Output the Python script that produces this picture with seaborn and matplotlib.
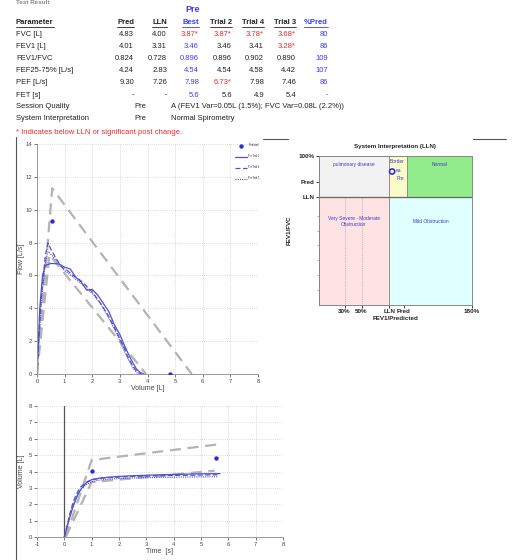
import matplotlib
matplotlib.use("Agg")
import matplotlib.pyplot as plt
import seaborn as sns
import pandas as pd
from matplotlib.lines import Line2D
from matplotlib.patches import Rectangle

# ---------------- data ----------------
params = ["FVC [L]", "FEV1 [L]", "FEV1/FVC", "FEF25-75% [L/s]", "PEF [L/s]", "FET [s]"]
pred = ["4.83", "4.01", "0.824", "4.24", "9.30", "-"]
lln = ["4.00", "3.31", "0.728", "2.83", "7.26", "-"]
best = ["3.87*", "3.46", "0.896", "4.54", "7.98", "5.6"]
trial2 = ["3.87*", "3.46", "0.896", "4.54", "6.73*", "5.6"]
trial4 = ["3.78*", "3.41", "0.902", "4.58", "7.98", "4.9"]
trial3 = ["3.68*", "3.28*", "0.890", "4.42", "7.46", "5.4"]
pct_pred = ["80", "86", "109", "107", "86", "-"]
session_quality = "A (FEV1 Var=0.05L (1.5%); FVC Var=0.08L (2.2%))"
system_interp = "Normal Spirometry"

# flow-volume
fv_t2_vol = [0, 0.05, 0.1, 0.2, 0.3, 0.5, 0.8, 1.0, 1.2, 1.4, 1.6, 1.8, 2.0, 2.2, 2.4, 2.6, 2.8, 3.0, 3.2, 3.4, 3.6, 3.75, 3.87]
fv_t2_flow = [0, 2.0, 4.0, 6.0, 6.6, 6.73, 6.7, 6.5, 6.4, 5.9, 5.6, 5.1, 5.15, 4.8, 4.3, 3.8, 3.0, 2.4, 1.6, 0.9, 0.3, 0.08, 0]
fv_t4_vol = [0, 0.05, 0.15, 0.3, 0.4, 0.5, 0.7, 0.9, 1.1, 1.3, 1.5, 1.7, 2.0, 2.3, 2.6, 2.9, 3.1, 3.3, 3.5, 3.65, 3.78]
fv_t4_flow = [0, 1.5, 4.5, 7.2, 7.98, 7.6, 7.0, 6.5, 6.3, 6.0, 5.8, 5.5, 5.0, 4.3, 3.5, 2.5, 1.8, 1.0, 0.4, 0.1, 0]
fv_t3_vol = [0, 0.05, 0.15, 0.3, 0.4, 0.55, 0.8, 1.0, 1.3, 1.6, 2.0, 2.3, 2.6, 2.9, 3.1, 3.3, 3.5, 3.6, 3.68]
fv_t3_flow = [0, 1.5, 4.3, 6.8, 7.46, 7.2, 6.7, 6.3, 5.9, 5.5, 4.9, 4.3, 3.4, 2.4, 1.6, 0.9, 0.3, 0.1, 0]
fv_pred_vol = [0, 0.55, 5.6]
fv_pred_flow = [0, 11.3, 0]
fv_lln_vol = [0, 0.45, 3.95]
fv_lln_flow = [0, 7.26, 0]
fv_pts_vol = [0.55, 4.83]
fv_pts_flow = [9.30, 0.0]

# volume-time
vt_t2_t = [0, 0.1, 0.2, 0.3, 0.4, 0.5, 0.6, 0.8, 1.0, 1.3, 1.6, 2.0, 2.5, 3.0, 3.5, 4.0, 4.5, 5.0, 5.7]
vt_t2_v = [0, 0.6, 1.2, 1.75, 2.2, 2.6, 2.9, 3.3, 3.5, 3.6, 3.65, 3.7, 3.74, 3.77, 3.8, 3.82, 3.84, 3.86, 3.87]
vt_t4_t = [0, 0.1, 0.2, 0.3, 0.4, 0.5, 0.6, 0.8, 1.0, 1.3, 1.6, 2.0, 2.5, 3.0, 3.5, 4.0, 4.5, 4.9, 5.6]
vt_t4_v = [0, 0.7, 1.4, 2.0, 2.45, 2.8, 3.05, 3.35, 3.5, 3.58, 3.62, 3.66, 3.7, 3.72, 3.74, 3.76, 3.77, 3.78, 3.8]
vt_t3_t = [0, 0.1, 0.2, 0.3, 0.4, 0.5, 0.6, 0.8, 1.0, 1.3, 1.6, 2.0, 2.5, 3.0, 3.5, 4.0, 4.5, 5.0, 5.6]
vt_t3_v = [0, 0.65, 1.3, 1.85, 2.3, 2.65, 2.9, 3.2, 3.38, 3.48, 3.53, 3.57, 3.6, 3.62, 3.64, 3.65, 3.66, 3.67, 3.68]
vt_pred_t = [0.05, 1.0, 5.6]
vt_pred_v = [0, 4.7, 5.65]
vt_lln_t = [0.05, 1.0, 5.5]
vt_lln_v = [0, 3.35, 4.05]
vt_pts_t = [1.0, 5.55]
vt_pts_v = [4.01, 4.83]

# interpretation chart
fev1_pct_pred = 86
fev1_fvc_pct = 89.6
lln_pct_pred = 82.5
pred_pct_pred = 100
ratio_lln = 72.8
ratio_pred = 82.4

# ---------------- style ----------------
sns.set_theme(style="white")
plt.rcParams['font.family'] = ['Liberation Sans', 'DejaVu Sans']
plt.rcParams['axes.unicode_minus'] = False

W, H = 519, 560
fig = plt.figure(figsize=(W / 100, H / 100), dpi=100)
fig.patch.set_facecolor("white")

def fx(x):
    return x / W

def fy(y):
    return 1 - y / H

def ftext(x, y, s, ha="left", color="#222222", size=5.5, weight="normal", **kw):
    return fig.text(fx(x), fy(y), s, ha=ha, va="center", color=color, fontsize=size,
                    fontweight=weight, **kw)

RED = "#ee2a2a"
BLUE = "#3a3aff"
DARK = "#222222"

# top heading (cut in the original page)
ftext(16, 3, "Test Result", color="#888888", size=4.5, weight="bold")
ftext(193, 10, "Pre", ha="center", color=BLUE, size=6.5, weight="bold")

col_x = {"pred": 134, "lln": 167, "best": 199, "t2": 232, "t4": 264, "t3": 296, "pct": 328}
headers = [("Parameter", 16, "left", DARK), ("Pred", col_x["pred"], "right", DARK),
           ("LLN", col_x["lln"], "right", DARK), ("Best", col_x["best"], "right", BLUE),
           ("Trial 2", col_x["t2"], "right", DARK), ("Trial 4", col_x["t4"], "right", DARK),
           ("Trial 3", col_x["t3"], "right", DARK), ("%Pred", col_x["pct"], "right", BLUE)]
header_texts = []
for s, x, ha, c in headers:
    header_texts.append((ftext(x, 23, s, ha=ha, color=c, weight="bold"), c))

row_y = [34, 46, 58, 70, 82, 95]
for i, y in enumerate(row_y):
    ftext(16, y, params[i])
    ftext(col_x["pred"], y, pred[i], ha="right")
    ftext(col_x["lln"], y, lln[i], ha="right")
    ftext(col_x["best"], y, best[i], ha="right", color=RED if "*" in best[i] else BLUE)
    ftext(col_x["t2"], y, trial2[i], ha="right", color=RED if "*" in trial2[i] else DARK)
    ftext(col_x["t4"], y, trial4[i], ha="right", color=RED if "*" in trial4[i] else DARK)
    ftext(col_x["t3"], y, trial3[i], ha="right", color=RED if "*" in trial3[i] else DARK)
    ftext(col_x["pct"], y, pct_pred[i], ha="right", color=BLUE)

ftext(16, 107, "Session Quality")
ftext(134, 107, "Pre")
ftext(171, 107, session_quality)
ftext(16, 119, "System Interpretation")
ftext(134, 119, "Pre")
ftext(171, 119, system_interp)
ftext(16, 132, "* Indicates below LLN or significant post change.", color=RED)

# frame lines
fig.add_artist(Line2D([fx(16), fx(16)], [fy(137), fy(560)], color="#555555", lw=0.8))
fig.add_artist(Line2D([fx(263), fx(288)], [fy(139), fy(139)], color="#555555", lw=0.8))
fig.add_artist(Line2D([fx(473), fx(506)], [fy(139), fy(139)], color="#555555", lw=0.8))

TICKC = "#444444"
GRIDC = "#cfcfcf"
LBLUE = "#5050cc"
GRAY = "#b3b3b3"
DASH = (0, (5, 3))

def style_axes(ax):
    for s in ["top", "right"]:
        ax.spines[s].set_visible(False)
    for s in ["left", "bottom"]:
        ax.spines[s].set_color("#999999")
        ax.spines[s].set_linewidth(0.7)
    ax.tick_params(axis="both", labelsize=4.2, colors=TICKC, length=2, width=0.5, pad=1.5,
                   left=True, bottom=True)
    ax.grid(True, color=GRIDC, linestyle=(0, (1, 1.5)), linewidth=0.6)
    ax.set_facecolor("white")

# ---------------- flow volume ----------------
ax1 = fig.add_axes([fx(37), fy(374), (258 - 37) / W, (374 - 144) / H])
style_axes(ax1)
sns.lineplot(x=fv_pred_vol, y=fv_pred_flow, ax=ax1, color=GRAY, lw=1.6,
             linestyle=DASH, estimator=None, sort=False)
sns.lineplot(x=fv_lln_vol, y=fv_lln_flow, ax=ax1, color=GRAY, lw=1.6,
             linestyle=DASH, estimator=None, sort=False)
sns.lineplot(x=fv_t2_vol, y=fv_t2_flow, ax=ax1, color=LBLUE, lw=0.9, estimator=None,
             sort=False, label="Pre Trial 2")
sns.lineplot(x=fv_t4_vol, y=fv_t4_flow, ax=ax1, color=LBLUE, lw=0.9, linestyle=(0, (4, 2)),
             estimator=None, sort=False, label="Pre Trial 4")
sns.lineplot(x=fv_t3_vol, y=fv_t3_flow, ax=ax1, color=LBLUE, lw=0.8, linestyle=(0, (1, 1)),
             estimator=None, sort=False, label="Pre Trial 3")
sns.scatterplot(x=fv_pts_vol, y=fv_pts_flow, ax=ax1, color="#2a2ae0", s=10, linewidth=0,
                label="Predicted", zorder=5)
ax1.set_xlim(0, 8)
ax1.set_ylim(0, 14)
ax1.set_xticks(range(0, 9))
ax1.set_yticks(range(0, 15, 2))
ax1.set_xlabel("Volume [L]", fontsize=5, color=TICKC, labelpad=1)
ax1.set_ylabel("Flow [L/s]", fontsize=5, color=TICKC, labelpad=0.5)
h, l = ax1.get_legend_handles_labels()
order = [3, 0, 1, 2]
ax1.legend([h[i] for i in order], [l[i] for i in order], loc="upper right",
           bbox_to_anchor=(1.015, 1.01), fontsize=1.8, frameon=False, handlelength=5,
           labelspacing=2.8, borderpad=0.2, handletextpad=0.4)

# ---------------- volume time ----------------
ax2 = fig.add_axes([fx(37), fy(537), (283 - 37) / W, (537 - 406) / H])
style_axes(ax2)
ax2.spines["left"].set_visible(False)
ax2.axvline(0, color="#555555", lw=0.9, zorder=1)
sns.lineplot(x=vt_pred_t, y=vt_pred_v, ax=ax2, color=GRAY, lw=1.6, linestyle=DASH,
             estimator=None, sort=False)
sns.lineplot(x=vt_lln_t, y=vt_lln_v, ax=ax2, color=GRAY, lw=1.6, linestyle=DASH,
             estimator=None, sort=False)
sns.lineplot(x=vt_t2_t, y=vt_t2_v, ax=ax2, color=LBLUE, lw=0.9, estimator=None, sort=False)
sns.lineplot(x=vt_t4_t, y=vt_t4_v, ax=ax2, color=LBLUE, lw=0.9, linestyle=(0, (4, 2)),
             estimator=None, sort=False)
sns.lineplot(x=vt_t3_t, y=vt_t3_v, ax=ax2, color=LBLUE, lw=0.8, linestyle=(0, (1, 1)),
             estimator=None, sort=False)
sns.scatterplot(x=vt_pts_t, y=vt_pts_v, ax=ax2, color="#2a2ae0", s=10, linewidth=0, zorder=5)
ax2.set_xlim(-1, 8)
ax2.set_ylim(0, 8)
ax2.set_xticks(range(-1, 9))
ax2.set_yticks(range(0, 9))
ax2.set_xlabel("Time  [s]", fontsize=5, color=TICKC, labelpad=1)
ax2.set_ylabel("Volume [L]", fontsize=5, color=TICKC, labelpad=3)

# ---------------- interpretation ----------------
ax3 = fig.add_axes([fx(319), fy(305), (472 - 319) / W, (305 - 156) / H])
ax3.set_xlim(0, 180)
ax3.set_ylim(0, 100)
regions = [
    (0, ratio_lln, lln_pct_pred, 100 - ratio_lln, "#f2f2f2"),
    (lln_pct_pred, ratio_lln, pred_pct_pred + 4 - lln_pct_pred, 100 - ratio_lln, "#fbfbc8"),
    (pred_pct_pred + 4, ratio_lln, 180 - pred_pct_pred - 4, 100 - ratio_lln, "#92ec8c"),
    (0, 0, lln_pct_pred, ratio_lln, "#ffe3e3"),
    (lln_pct_pred, 0, 180 - lln_pct_pred, ratio_lln, "#e0ffff"),
]
for x0, y0, w, hh, c in regions:
    ax3.add_patch(Rectangle((x0, y0), w, hh, facecolor=c, edgecolor="#888888", lw=0.6, zorder=0))
for xv in [30, 50]:
    ax3.plot([xv, xv], [0, ratio_lln], color="#aaaaaa", lw=0.6, linestyle=(0, (1, 1.2)), zorder=1)
ax3.axhline(ratio_lln, color="#666666", lw=0.9, zorder=2)
TB = "#3b3bd0"
FS = 3.5
ax3.text(41, 94, "pulmonary disease", fontsize=FS, color=TB, ha="center", va="center")
ax3.text(142, 94, "Normal", fontsize=FS, color=TB, ha="center", va="center")
ax3.text(92, 96, "Border", fontsize=FS, color=TB, ha="center", va="center")
ax3.text(93, 90, "ea", fontsize=FS, color=TB, ha="center", va="center")
ax3.text(96, 85, "Pre", fontsize=FS, color=TB, ha="center", va="center")
ax3.text(41, 56, "Very Severe - Moderate\nObstruction", fontsize=FS, color=TB, ha="center",
         va="center", linespacing=1.2)
ax3.text(131, 56, "Mild Obstruction", fontsize=FS, color=TB, ha="center", va="center")
sns.scatterplot(x=[fev1_pct_pred], y=[fev1_fvc_pct], ax=ax3, s=14, facecolor="none",
                edgecolor="#1f1fff", linewidth=1.1, zorder=5)
for s in ax3.spines.values():
    s.set_color("#888888")
    s.set_linewidth(0.7)
ax3.set_xticks([30, 50, lln_pct_pred, pred_pct_pred, 180])
ax3.set_xticklabels(["30%", "50%", "LLN", "Pred", "180%"])
ax3.set_yticks([100, ratio_pred, ratio_lln])
ax3.set_yticklabels(["100%", "Pred", "LLN"])
ax3.set_yticks(range(10, 70, 10), minor=True)
ax3.tick_params(axis="both", which="major", labelsize=4.5, colors="#222222", length=2,
                width=0.6, pad=1, left=True, bottom=True)
ax3.tick_params(axis="y", which="minor", length=1.5, width=0.5, colors="#888888", left=True)
for lab in ax3.get_xticklabels() + ax3.get_yticklabels():
    lab.set_fontweight("bold")
ax3.set_xlabel("FEV1/Predicted", fontsize=4.5, fontweight="bold", color="#222222", labelpad=1)
ax3.set_ylabel("FEV1/FVC", fontsize=4.5, fontweight="bold", color="#222222", labelpad=5)
ax3.set_title("System Interpretation (LLN)", fontsize=4.5, fontweight="bold", color="#222222", pad=6)

# underline headers
fig.canvas.draw()
rend = fig.canvas.get_renderer()
for t, c in header_texts:
    bb = t.get_window_extent(rend)
    yline = bb.y0 - 0.5
    fig.add_artist(Line2D([bb.x0 / W, bb.x1 / W], [yline / H, yline / H], color=c, lw=0.6))

fig.savefig("out.png", dpi=100, facecolor="white")
